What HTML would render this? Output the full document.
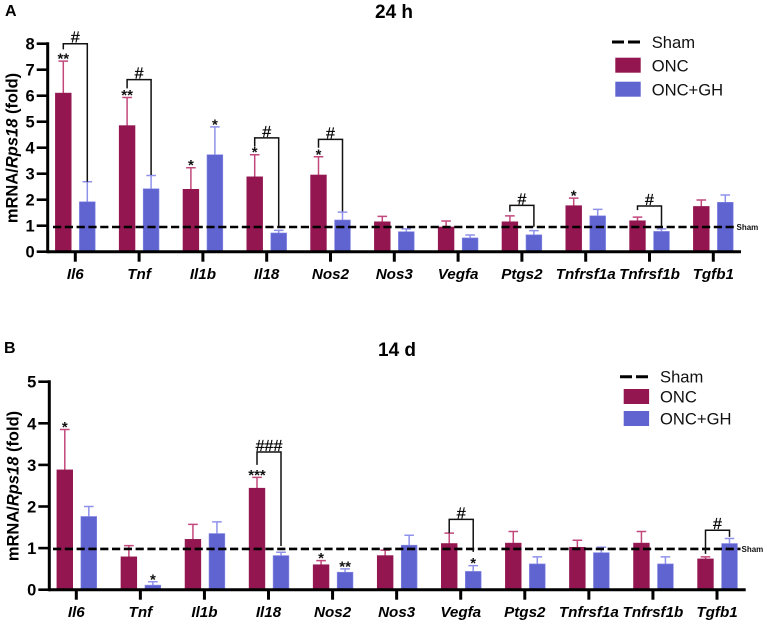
<!DOCTYPE html>
<html lang="en">
<head>
<meta charset="utf-8">
<title>mRNA fold change at 24 h and 14 d</title>
<style>
html,body{margin:0;padding:0;background:#fff;}
body{width:767px;height:625px;overflow:hidden;}
svg{display:block;filter:blur(0.35px);}
text{font-family:"Liberation Sans",sans-serif;fill:#111;}
.tick{font-weight:bold;font-size:16.5px;text-anchor:end;fill:#000;}
.gene{font-weight:bold;font-style:italic;font-size:15.2px;text-anchor:middle;fill:#000;}
.ytitle{font-weight:bold;font-size:16.5px;text-anchor:middle;fill:#000;}
.title{font-weight:bold;font-size:19px;fill:#000;}
.letter{font-weight:bold;font-size:16px;fill:#000;}
.leg{font-size:16.6px;}
.sham{font-weight:bold;font-size:8px;}
.hash{font-size:16px;text-anchor:middle;fill:#000;stroke:#000;stroke-width:0.25px;}
.star{font-weight:bold;font-size:15px;text-anchor:middle;}
</style>
</head>
<body>
<svg id="chart" xmlns="http://www.w3.org/2000/svg" width="767" height="625" viewBox="0 0 767 625">
  <rect x="0" y="0" width="767" height="625" fill="#fff"/>
  <text class="letter" x="5" y="16">A</text>
  <text class="title" x="375" y="18">24 h</text>
  <text class="ytitle" transform="translate(17.5,148) rotate(-90)">mRNA/<tspan font-style="italic">Rps18</tspan> (fold)</text>
  <text class="letter" x="4" y="353">B</text>
  <text class="title" x="378" y="356">14 d</text>
  <text class="ytitle" transform="translate(18.5,486) rotate(-90)">mRNA/<tspan font-style="italic">Rps18</tspan> (fold)</text>

  <g>
    <line x1="612" x2="640" y1="42" y2="42" stroke="#000" stroke-width="3" stroke-dasharray="12 4"/>
    <text class="leg" x="651.7" y="48">Sham</text>
    <rect x="615.3" y="57.7" width="25.4" height="15" fill="#931650"/>
    <text class="leg" x="651.7" y="71.3">ONC</text>
    <rect x="615.3" y="81.7" width="25.4" height="15" fill="#6064d0"/>
    <text class="leg" x="651.7" y="95.3">ONC+GH</text>
  </g>
  <g>
    <line x1="620" x2="648" y1="376.7" y2="376.7" stroke="#000" stroke-width="3" stroke-dasharray="12 4"/>
    <text class="leg" x="660" y="382.7">Sham</text>
    <rect x="623.7" y="389" width="25.4" height="15" fill="#931650"/>
    <text class="leg" x="660" y="402.7">ONC</text>
    <rect x="623.7" y="411" width="25.4" height="15" fill="#6064d0"/>
    <text class="leg" x="660" y="424.7">ONC+GH</text>
  </g>
</svg>
<script>
const genes = ["Il6","Tnf","Il1b","Il18","Nos2","Nos3","Vegfa","Ptgs2","Tnfrsf1a","Tnfrsf1b","Tgfb1"];

const ticksA = [0,1,2,3,4,5,6,7,8];
const oncA = [6.1,4.85,2.4,2.88,2.95,1.15,0.95,1.15,1.77,1.19,1.74];
const oncErrA = [7.33,5.93,3.23,3.73,3.65,1.36,1.18,1.38,2.06,1.33,1.99];
const ghA = [1.92,2.42,3.73,0.72,1.22,0.77,0.53,0.65,1.38,0.78,1.9];
const ghErrA = [2.69,2.93,4.8,0.82,1.52,0.88,0.64,0.81,1.63,0.88,2.18];
const shamA = 0.95;
/* [gene index, series 0=ONC 1=ONC+GH, label] */
const starsA = [[0,0,"**"],[1,0,"**"],[2,0,"*"],[2,1,"*"],[3,0,"*"],[4,0,"*"],[8,0,"*"]];
/* [gene index, top value, left-leg bottom value, right-leg bottom value, label] */
const bracketsA = [[0,8,7.78,2.69,"#"],[1,6.62,6.28,2.95,"#"],[3,4.38,4.04,0.96,"#"],[4,4.32,4,1.55,"#"],[7,1.78,1.54,0.96,"#"],[9,1.76,1.6,0.96,"#"]];

const ticksB = [0,1,2,3,4,5];
const oncB = [2.88,0.79,1.21,2.44,0.6,0.82,1.11,1.12,1.02,1.12,0.74];
const oncErrB = [3.85,1.06,1.57,2.7,0.7,0.95,1.36,1.4,1.19,1.4,0.79];
const ghB = [1.76,0.11,1.35,0.82,0.42,1.07,0.44,0.62,0.89,0.62,1.11];
const ghErrB = [2,0.19,1.63,0.9,0.5,1.31,0.58,0.79,1.02,0.79,1.23];
const shamB = 0.98;
const starsB = [[0,0,"*"],[1,1,"*"],[3,0,"***"],[4,0,"*"],[4,1,"**"],[6,1,"*"]];
const bracketsB = [[3,3.31,3,1.05,"###"],[6,1.69,1.36,0.91,"#"],[10,1.43,0.86,1.27,"#"]];

const NS = "http://www.w3.org/2000/svg";
const svg = document.getElementById("chart");
function mk(parent, tag, attrs, txt) {
  const el = document.createElementNS(NS, tag);
  for (const k in attrs) el.setAttribute(k, attrs[k]);
  if (txt !== undefined) el.textContent = txt;
  parent.appendChild(el);
  return el;
}

function drawPanel(p, ticks, onc, oncErr, gh, ghErr, sham, stars, brackets) {
  const root = mk(svg, "g", {});
  
  
  const y = v => p.y0 + (p.yTop - p.y0) * v / ticks[ticks.length - 1];
  const x = i => p.x0 + p.step * i;
  const cx = (i, s) => x(i) + (s === 0 ? p.offOnc : p.offGh);
  const barW = 15.8;

  genes.forEach((g, i) => {
    [[onc, oncErr, "#931650", "#c2487c", "#931650", "onc"], [gh, ghErr, "#6064d0", "#8f92ea", "#8689e4", "onc-gh"]].forEach((s, si) => {
      const c = cx(i, si);
      const eb = mk(root, "path", {d: "M" + c + " " + y(s[0][i]) + "V" + y(s[1][i]) + "M" + (c - 4.8) + " " + y(s[1][i]) + "H" + (c + 4.8), fill: "none", stroke: s[3], "stroke-width": 1.5});
      
      
      const bar = mk(root, "rect", {x: c - barW / 2, y: y(s[0][i]), width: barW, height: p.y0 - y(s[0][i]), fill: s[2], stroke: s[4], "stroke-width": 0.6});
      
      
    });
    const tick = mk(root, "line", {x1: x(i), x2: x(i), y1: p.y0, y2: p.y0 + 10, stroke: "#000", "stroke-width": 3});
    
    
    const lab = mk(root, "text", {class: "gene", x: x(i) + p.labelDx, y: p.y0 + 27.5}, g);
    
    
  });

  const yAxis = mk(root, "line", {x1: p.axisX, x2: p.axisX, y1: y(ticks[ticks.length - 1]) - 1.5, y2: p.y0 + 1.5, stroke: "#000", "stroke-width": 3});
  
  
  const xAxis = mk(root, "line", {x1: p.axisX, x2: p.axisEnd, y1: p.y0, y2: p.y0, stroke: "#000", "stroke-width": 3});
  
  

  ticks.forEach(t => {
    const tl = mk(root, "line", {x1: p.axisX - 11, x2: p.axisX, y1: y(t), y2: y(t), stroke: "#000", "stroke-width": 2.6});
    
    
    const tx = mk(root, "text", {class: "tick", x: p.axisX - 13, y: y(t) + 6}, t);
    
    
  });

  const shamLine = mk(root, "line", {x1: p.dashStart, x2: p.dashEnd, y1: y(sham), y2: y(sham), stroke: "#000", "stroke-width": 2.6, "stroke-dasharray": "8.2 3.6"});
  
  
  const shamLabel = mk(root, "text", {class: "sham", x: p.dashEnd + 1, y: y(sham) + 3}, "Sham");
  
  

  stars.forEach(s => {
    const top = (s[1] === 0 ? oncErr : ghErr)[s[0]];
    const st = mk(root, "text", {class: "star", x: cx(s[0], s[1]), y: y(top) + 2.5}, s[2]);
    
    
  });

  brackets.forEach(b => {
    const l = cx(b[0], 0), r = cx(b[0], 1);
    const br = mk(root, "path", {d: "M" + l + " " + y(b[2]) + "V" + y(b[1]) + "H" + r + "V" + y(b[3]), fill: "none", stroke: "#111", "stroke-width": 1.5});
    
    
    const h = mk(root, "text", {class: "hash", x: (l + r) / 2, y: y(b[1]) - 1}, b[4]);
    
    
  });
}

drawPanel({name: "panel-a-24h", y0: 251.7, yTop: 43.7, x0: 75.3, step: 63.8, offOnc: -12, offGh: 12, axisX: 47.7, axisEnd: 741, dashStart: 53, dashEnd: 735.5, labelDx: 0},
  ticksA, oncA, oncErrA, ghA, ghErrA, shamA, starsA, bracketsA);
drawPanel({name: "panel-b-14d", y0: 589.7, yTop: 381.7, x0: 76.3, step: 64.07, offOnc: -11.5, offGh: 12.5, axisX: 49.3, axisEnd: 745.7, dashStart: 53, dashEnd: 740.5, labelDx: 0},
  ticksB, oncB, oncErrB, ghB, ghErrB, shamB, starsB, bracketsB);
</script>
</body>
</html>
